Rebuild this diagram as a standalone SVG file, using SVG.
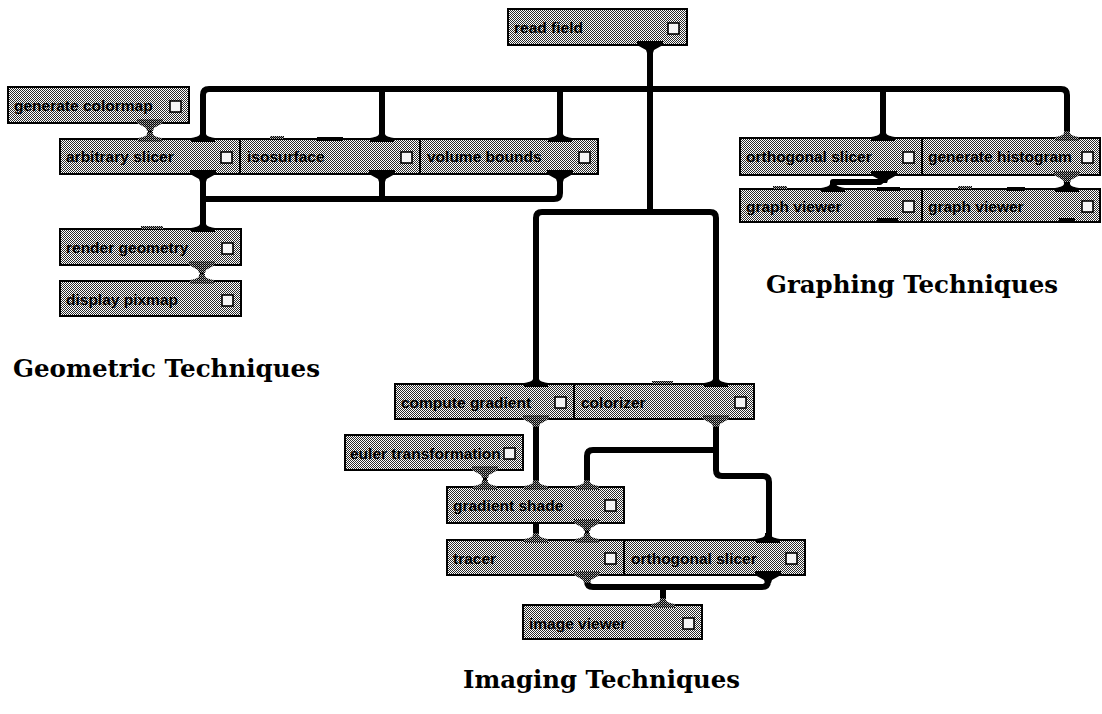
<svg xmlns="http://www.w3.org/2000/svg" xmlns:xlink="http://www.w3.org/1999/xlink" width="1102" height="714" viewBox="0 0 1102 714">
<style>
.box{fill:url(#chk);stroke:#000;stroke-width:2}
.lbl{font-family:"Liberation Sans",Arial,sans-serif;font-weight:bold;font-size:15.5px;fill:#000}
.cb{fill:#f4f4f4;stroke:#000;stroke-width:1.6}
.blk{fill:#000}
.hat{fill:url(#dchk)}
.title{font-family:"DejaVu Serif","Liberation Serif",serif;font-weight:bold;font-size:24.5px;fill:#000}
</style>
<defs>
<pattern id="chk" width="2" height="2" patternUnits="userSpaceOnUse">
<rect width="2" height="2" fill="#ffffff"/>
<rect width="1" height="1" fill="#2a2a2a"/>
<rect x="1" y="1" width="1" height="1" fill="#2a2a2a"/>
</pattern>
<pattern id="dchk" width="2" height="2" patternUnits="userSpaceOnUse">
<rect width="2" height="2" fill="#000"/>
<rect width="1" height="1" fill="#bbbbbb"/>
<rect x="1" y="1" width="1" height="1" fill="#777777"/>
</pattern>
<path id="pin" d="M-3,-7 L3,-7 L3,-5 C4,-2 8,-2 12,-1 L12,3 L-12,3 L-12,-1 C-8,-2 -4,-2 -3,-5 Z"/>
<path id="pout" d="M-13,-4 L13,-4 L13,0 L4,5 L3,8 L-3,8 L-4,5 L-13,0 Z"/>
</defs>
<rect width="1102" height="714" fill="#fff"/>

<g id="connectors" fill="none" stroke="#000" stroke-width="6" stroke-linejoin="round">
<path d="M203,139 V95 Q203,89 209,89 H1061 Q1067,89 1067,95 V138"/>
<path d="M382,89 V139"/>
<path d="M560,89 V139"/>
<path d="M883,89 V138"/>
<path d="M650,45 V212"/>
<path d="M536,384 V218 Q536,212 542,212 H710 Q716,212 716,218 V384"/>
<path d="M203,174 V229"/>
<path d="M203,199 H554 Q560,199 560,193 V174"/>
<path d="M382,174 V199"/>
<path d="M887,176 L880,182 H833 V189" stroke-width="6"/>
<path d="M1067,175 V189" stroke-width="4"/>
<path d="M150,123 V139" stroke-width="4"/>
<path d="M202,265 V281" stroke-width="4"/>
<path d="M536,419 V487"/>
<path d="M536,523 V540"/>
<path d="M485,470 V487" stroke-width="4"/>
<path d="M716,419 V470 Q716,476 722,476 H763 Q769,476 769,482 V540"/>
<path d="M716,450 H593 Q587,450 587,456 V487"/>
<path d="M587,523 V540" stroke-width="4"/>
<path d="M587,575 V581 Q587,587 593,587 H762 Q768,587 768,581 V575"/>
<path d="M663,587 V605"/>
</g>

<g id="n-read-field">
<rect class="box" x="508" y="9" width="179" height="36"/>
<text class="lbl" x="514" y="33">read field</text>
<rect class="cb" x="668" y="23" width="11" height="11"/>
<use href="#pout" x="650" y="45" class="blk"/>
</g>

<g id="n-generate-colormap">
<rect class="box" x="8" y="87" width="181" height="36"/>
<text class="lbl" x="14" y="111">generate colormap</text>
<rect class="cb" x="170" y="101" width="11" height="11"/>
<use href="#pout" x="150" y="123" class="hat"/>
</g>

<g id="n-arbitrary-slicer">
<rect class="box" x="60" y="139" width="180" height="35"/>
<text class="lbl" x="66" y="162">arbitrary slicer</text>
<rect class="cb" x="221" y="152" width="11" height="11"/>
<use href="#pin" x="203" y="139" class="blk"/>
<use href="#pin" x="150" y="139" class="hat"/>
<use href="#pout" x="203" y="174" class="blk"/>
</g>

<g id="n-isosurface">
<rect class="box" x="240" y="139" width="180" height="35"/>
<text class="lbl" x="247" y="162">isosurface</text>
<rect class="cb" x="401" y="152" width="11" height="11"/>
<rect class="hat" x="270" y="136" width="14" height="3"/>
<rect class="blk" x="317" y="137" width="26" height="4"/>
<use href="#pin" x="382" y="139" class="blk"/>
<use href="#pout" x="382" y="174" class="blk"/>
</g>

<g id="n-volume-bounds">
<rect class="box" x="420" y="139" width="178" height="35"/>
<text class="lbl" x="427" y="162">volume bounds</text>
<rect class="cb" x="579" y="152" width="11" height="11"/>
<use href="#pin" x="560" y="139" class="blk"/>
<use href="#pout" x="560" y="174" class="blk"/>
</g>

<g id="n-render-geometry">
<rect class="box" x="60" y="229" width="181" height="36"/>
<text class="lbl" x="66" y="253">render geometry</text>
<rect class="cb" x="222" y="243" width="11" height="11"/>
<rect class="hat" x="141" y="226" width="22" height="3"/>
<use href="#pin" x="203" y="229" class="blk"/>
<use href="#pout" x="202" y="265" class="hat"/>
</g>

<g id="n-display-pixmap">
<rect class="box" x="60" y="281" width="181" height="35"/>
<text class="lbl" x="66" y="305">display pixmap</text>
<rect class="cb" x="222" y="295" width="11" height="11"/>
<use href="#pin" x="202" y="281" class="hat"/>
</g>

<g id="n-orthogonal-slicer-graph">
<rect class="box" x="740" y="138" width="182" height="37"/>
<text class="lbl" x="746" y="162">orthogonal slicer</text>
<rect class="cb" x="903" y="152" width="11" height="11"/>
<use href="#pin" x="883" y="138" class="blk"/>
<use href="#pout" x="884" y="175" class="blk"/>
</g>

<g id="n-generate-histogram">
<rect class="box" x="922" y="138" width="178" height="37"/>
<text class="lbl" x="928" y="162">generate histogram</text>
<rect class="cb" x="1082" y="152" width="11" height="11"/>
<use href="#pin" x="1067" y="138" class="hat"/>
<use href="#pout" x="1067" y="175" class="hat"/>
</g>

<g id="n-graph-viewer-1">
<rect class="box" x="740" y="189" width="182" height="33"/>
<text class="lbl" x="746" y="212">graph viewer</text>
<rect class="cb" x="903" y="201" width="11" height="11"/>
<rect class="hat" x="773" y="186" width="14" height="3"/>
<rect class="blk" x="877" y="187" width="23" height="4"/>
<rect class="blk" x="877" y="218" width="21" height="4"/>
<use href="#pin" x="833" y="189" class="blk"/>
</g>

<g id="n-graph-viewer-2">
<rect class="box" x="922" y="189" width="178" height="33"/>
<text class="lbl" x="928" y="212">graph viewer</text>
<rect class="cb" x="1082" y="201" width="11" height="11"/>
<rect class="hat" x="958" y="186" width="14" height="3"/>
<rect class="blk" x="1007" y="187" width="18" height="4"/>
<rect class="blk" x="1059" y="218" width="16" height="4"/>
<use href="#pin" x="1067" y="189" class="blk"/>
</g>

<g id="n-compute-gradient">
<rect class="box" x="395" y="384" width="179" height="35"/>
<text class="lbl" x="401" y="408">compute gradient</text>
<rect class="cb" x="555" y="397" width="11" height="11"/>
<use href="#pin" x="536" y="384" class="blk"/>
<use href="#pout" x="536" y="419" class="hat"/>
</g>

<g id="n-colorizer">
<rect class="box" x="574" y="384" width="180" height="35"/>
<text class="lbl" x="581" y="408">colorizer</text>
<rect class="cb" x="735" y="397" width="11" height="11"/>
<rect class="hat" x="652" y="381" width="21" height="3"/>
<use href="#pin" x="716" y="384" class="blk"/>
<use href="#pout" x="716" y="419" class="hat"/>
</g>

<g id="n-euler-transformation">
<rect class="box" x="345" y="435" width="178" height="35"/>
<text class="lbl" x="350" y="459">euler transformation</text>
<rect class="cb" x="504" y="448" width="11" height="11"/>
<use href="#pout" x="485" y="470" class="hat"/>
</g>

<g id="n-gradient-shade">
<rect class="box" x="447" y="487" width="177" height="36"/>
<text class="lbl" x="453" y="511">gradient shade</text>
<rect class="cb" x="605" y="500" width="11" height="11"/>
<use href="#pin" x="485" y="487" class="hat"/>
<use href="#pin" x="536" y="487" class="hat"/>
<use href="#pin" x="587" y="487" class="hat"/>
<use href="#pout" x="587" y="523" class="hat"/>
</g>

<g id="n-tracer">
<rect class="box" x="447" y="540" width="177" height="35"/>
<text class="lbl" x="453" y="564">tracer</text>
<rect class="cb" x="605" y="553" width="11" height="11"/>
<use href="#pin" x="536" y="540" class="hat"/>
<use href="#pin" x="587" y="540" class="hat"/>
<use href="#pout" x="587" y="575" class="hat"/>
</g>

<g id="n-orthogonal-slicer-img">
<rect class="box" x="624" y="540" width="181" height="35"/>
<text class="lbl" x="631" y="564">orthogonal slicer</text>
<rect class="cb" x="786" y="553" width="11" height="11"/>
<use href="#pin" x="768" y="540" class="blk"/>
<use href="#pout" x="768" y="575" class="blk"/>
</g>

<g id="n-image-viewer">
<rect class="box" x="523" y="605" width="179" height="34"/>
<text class="lbl" x="529" y="629">image viewer</text>
<rect class="cb" x="683" y="618" width="11" height="11"/>
<use href="#pin" x="663" y="605" class="hat"/>
</g>

<g id="titles">
<text class="title" x="13" y="377" textLength="307" lengthAdjust="spacingAndGlyphs">Geometric Techniques</text>
<text class="title" x="766" y="293" textLength="292" lengthAdjust="spacingAndGlyphs">Graphing Techniques</text>
<text class="title" x="463" y="688" textLength="277" lengthAdjust="spacingAndGlyphs">Imaging Techniques</text>
</g>
</svg>
